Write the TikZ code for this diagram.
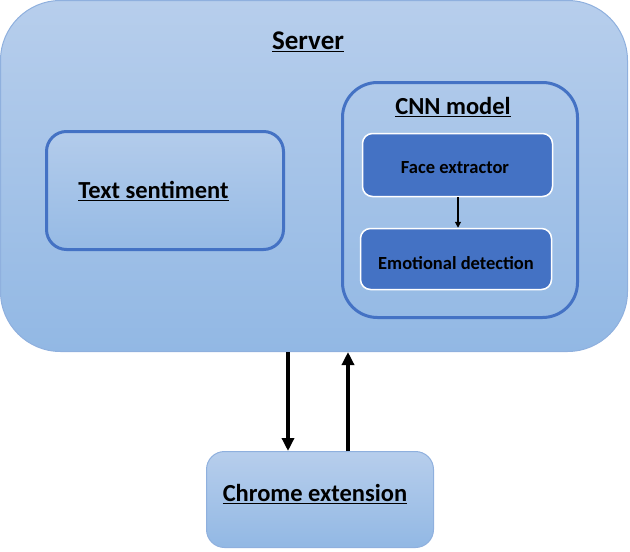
\documentclass[tikz,border=0pt]{standalone}
\usepackage{fontspec}
\setmainfont{Carlito}
\usetikzlibrary{arrows.meta}
\definecolor{boxtop}{RGB}{183,206,236}
\definecolor{boxbot}{RGB}{146,184,228}
\definecolor{boxline}{RGB}{143,176,222}
\definecolor{cnnblue}{RGB}{68,114,196}
\tikzset{
  outerbox/.style={draw=boxline, line width=1pt, top color=boxtop, bottom color=boxbot, rounded corners=#1},
  ringbox/.style={draw=cnnblue, line width=3pt, rounded corners=#1},
  darkbox/.style={draw=white, line width=1.5pt, fill=cnnblue, rounded corners=10pt},
  title/.style={font=\bfseries\fontsize{24.5}{28}\selectfont, inner sep=0pt},
  small/.style={font=\bfseries\fontsize{18.5}{22}\selectfont, inner sep=0pt},
  bigarrow/.style={line width=3.5pt, -{Triangle[length=13pt,width=12pt]}}
}
\begin{document}
\begin{tikzpicture}[x=1pt,y=-1pt]
\useasboundingbox (0,0) rectangle (630,552);
\node[outerbox=60pt, minimum width=627pt, minimum height=351pt] (server) at (314,176) {};
\node[title, font=\bfseries\fontsize{27}{30}\selectfont] (serverlabel) at (308,42) {\underline{Server}};
\node[outerbox=0pt, draw=none, ringbox=20pt, top color=boxtop!90!boxbot, bottom color=boxbot!90!boxtop, minimum width=237pt, minimum height=118pt] (text) at (165,190.5) {};
\node[title] (textlabel) at (153.5,191) {\underline{Text sentiment}};
\node[ringbox=35pt, minimum width=235pt, minimum height=235pt] (cnn) at (460,200) {};
\node[title] (cnnlabel) at (453,107) {\underline{CNN model}};
\node[darkbox, minimum width=190pt, minimum height=63pt] (face) at (457.5,165) {};
\node[small] (facelabel) at (455,168) {Face extractor};
\node[darkbox, minimum width=191pt, minimum height=61pt] (emo) at (456,259) {};
\node[small] (emolabel) at (456,263) {Emotional detection};
\node[outerbox=18pt, minimum width=227pt, minimum height=96pt] (chrome) at (320,499.5) {};
\node[title] (chromelabel) at (315,494) {\underline{Chrome extension}};
\coordinate (downx) at (288,0);
\coordinate (upx) at (348,0);
\coordinate (midx) at (458,0);
\draw[bigarrow] (server.south -| downx) -- (chrome.north -| downx);
\draw[bigarrow] (chrome.north -| upx) -- (server.south -| upx);
\draw[line width=1.2pt, -{Triangle[length=6pt,width=6pt]}] (face.south -| midx) -- (emo.north -| midx);
\end{tikzpicture}
\end{document}
